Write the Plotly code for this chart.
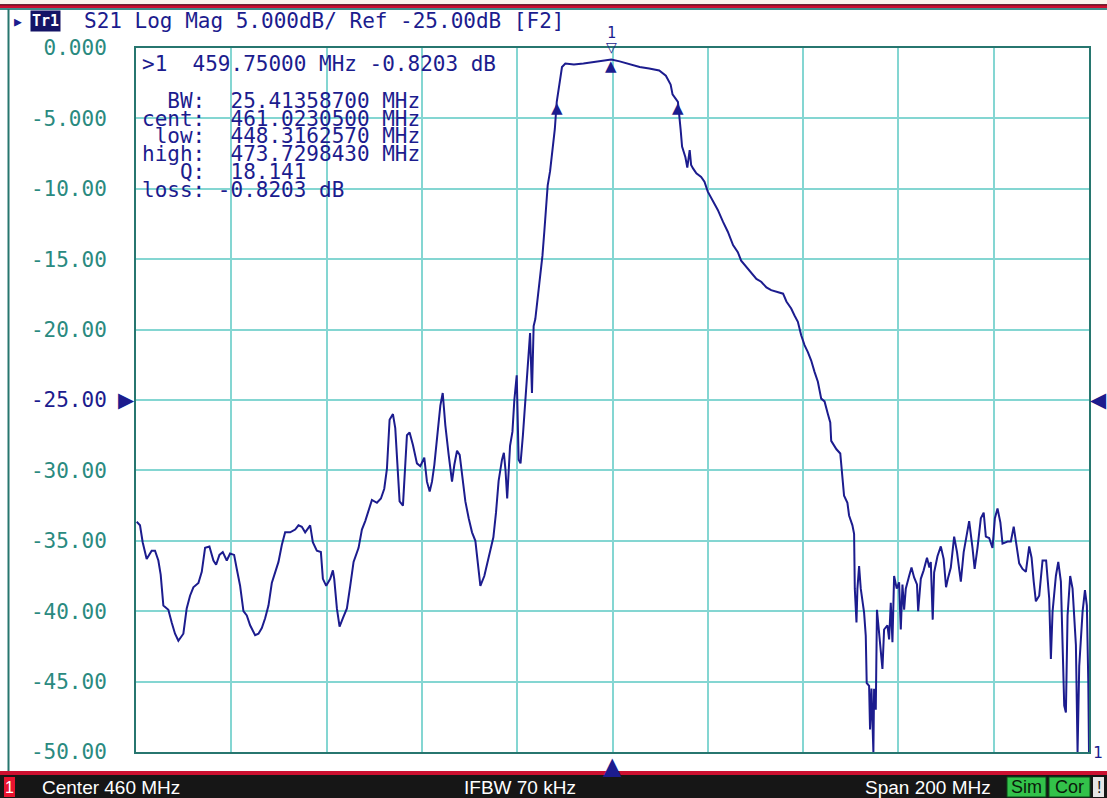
import plotly.graph_objects as go

# ---------------- data (MHz, dB) ----------------
freq_a = [360.14, 360.84, 361.40, 362.24, 363.29, 363.99, 364.69, 365.18, 365.74, 366.79,
          367.49, 368.19, 368.89, 369.94, 370.64, 371.34, 372.04, 373.10, 373.80, 374.50,
          375.41, 376.25, 376.81, 377.51, 378.21, 379.05, 379.75, 380.59, 381.15, 381.85,
          382.55, 383.25, 383.95, 385.00, 385.70, 386.40, 387.10, 387.80, 388.50, 389.20,
          389.90, 390.60, 391.30, 392.35, 393.40, 394.10, 394.80, 395.50, 396.55, 397.11,
          397.95, 398.80, 399.22, 399.92, 400.76, 401.32, 401.60, 402.16, 402.72, 403.42,
          404.26, 404.96, 405.66, 406.71, 407.41, 408.11, 408.81, 409.51, 410.56, 411.40,
          412.10, 412.66, 413.22, 413.92, 414.41, 414.76, 415.32, 416.02, 416.51, 416.86,
          417.42, 418.12, 418.96, 419.66, 420.50, 421.06, 421.63, 422.12, 422.61, 423.17,
          423.87, 424.37, 424.92, 425.62, 426.32, 426.81, 427.37, 427.93, 428.42, 429.12,
          429.82, 430.52, 431.22, 431.92, 432.27]
db_a = [-33.65, -33.9, -35.1, -36.3, -35.7, -35.7, -36.4, -37.4, -39.6, -39.9,
        -40.8, -41.6, -42.1, -41.6, -39.8, -38.9, -38.3, -38.0, -37.2, -35.5,
        -35.4, -36.4, -36.7, -36.0, -35.8, -36.4, -35.9, -36.0, -37.0, -38.2,
        -40.0, -40.3, -41.0, -41.7, -41.6, -41.2, -40.5, -39.6, -38.0, -37.2,
        -36.5, -35.3, -34.4, -34.4, -34.2, -33.9, -34.0, -34.4, -33.9, -35.1,
        -35.7, -35.8, -37.7, -38.2, -37.7, -37.1, -37.7, -39.8, -41.1, -40.5,
        -39.8, -38.2, -36.5, -35.5, -34.2, -33.6, -32.8, -32.1, -32.3, -32.0,
        -31.3, -29.9, -26.4, -26.0, -27.0, -29.3, -32.2, -32.5, -29.6, -27.5,
        -27.3, -28.2, -29.5, -29.7, -29.1, -30.8, -31.5, -30.8, -29.6, -27.8,
        -25.4, -24.5, -26.8, -28.9, -30.8, -29.6, -28.6, -28.9, -30.3, -32.2,
        -33.4, -34.4, -35.0, -37.0, -38.2]

freq_b = [433.1, 434.2, 435.0, 435.55, 436.1, 436.8, 437.2, 437.55, 437.9, 438.5,
          439.0, 439.4, 439.9, 440.3, 440.7, 441.2, 441.6, 442.2, 442.7, 443.1,
          443.45, 443.8, 444.4, 444.9, 445.3, 445.7, 446.0, 446.4, 446.9, 447.4,
          447.9, 448.3, 448.8, 449.1, 449.4, 450.1, 451.9, 453.9, 456.0, 458.1,
          459.75, 461.5, 463.6, 465.7, 467.7, 469.8, 471.2, 472.2, 472.6, 473.73,
          474.3, 474.6, 475.3, 475.7]
db_b = [-37.5, -36.0, -34.75, -33.0, -30.75, -29.25, -28.75, -30.0, -32.0, -28.25,
        -27.25, -25.0, -23.25, -29.25, -29.5, -27.5, -25.4, -22.75, -20.25, -24.5,
        -19.75, -19.25, -17.5, -15.75, -14.75, -13.0, -11.5, -9.75, -8.75, -7.25,
        -5.75, -3.82, -2.83, -1.97, -1.35, -1.1, -1.18, -1.1, -0.99, -0.9,
        -0.82, -0.95, -1.15, -1.35, -1.45, -1.6, -1.97, -2.6, -3.3, -3.82,
        -5.8, -7.0, -7.76, -8.5]

freq_c = [476.2, 476.5, 476.9, 477.6, 478.6, 479.3, 480.0, 481.1, 482.1, 483.2,
          484.2, 485.3, 486.3, 487.0, 488.1, 489.1, 490.2, 491.2, 492.3, 493.3,
          494.4, 495.8, 496.5, 497.5, 498.2, 498.9, 499.6, 500.3, 501.0, 501.7,
          502.4, 503.1, 503.8, 504.5, 505.2, 505.7, 505.9, 507.0, 507.8, 508.2]
db_c = [-7.25, -8.3, -8.55, -8.9, -9.15, -9.5, -10.2, -10.9, -11.5, -12.35,
        -13.05, -14.0, -14.5, -15.1, -15.55, -16.0, -16.4, -16.6, -17.0, -17.2,
        -17.3, -17.45, -18.0, -18.5, -19.0, -19.45, -20.4, -21.1, -21.6, -22.2,
        -23.0, -23.7, -24.9, -25.1, -26.0, -26.6, -27.9, -28.5, -28.8, -30.1]

freq_d = [508.6, 509.3, 509.65, 510.35, 510.7, 510.85, 511.2, 511.4, 511.75, 512.1,
          512.45, 512.8, 513.15, 513.35, 513.85, 514.05, 514.35, 514.55, 514.75, 514.9,
          515.25, 515.5, 516.0, 516.65, 517.0, 517.7, 518.05, 518.4, 518.75, 519.1,
          519.65, 520.15, 520.5, 520.85, 521.2, 521.55, 522.25, 522.75, 523.3, 523.9,
          524.15, 524.7, 525.3, 526.0, 526.5, 526.8, 527.2, 527.5, 528.2, 528.9,
          529.5, 530.0, 530.45, 531.0]
db_d = [-31.8, -32.3, -33.2, -33.9, -34.5, -38.4, -40.8, -38.4, -36.8, -38.4,
        -39.1, -40.1, -41.75, -45.1, -45.3, -48.4, -45.5, -49.0, -50.0, -45.5,
        -47.0, -39.9, -42.0, -44.1, -41.3, -41.0, -42.0, -39.4, -42.2, -37.5,
        -38.4, -37.95, -41.3, -38.1, -39.9, -38.4, -37.5, -36.9, -37.6, -38.1,
        -40.0, -37.7, -37.1, -36.2, -36.9, -36.5, -40.6, -37.25, -36.1, -35.4,
        -36.3, -38.3, -37.6, -36.9]

freq_e = [531.7, 532.3, 532.75, 533.1, 533.7, 534.4, 534.85, 535.55, 536.0, 536.6,
          537.3, 537.9, 538.35, 539.05, 539.75, 540.25, 540.8, 541.4, 541.85, 542.9,
          543.6, 544.2, 544.65, 545.35, 546.05, 546.75, 547.45, 547.95, 548.4, 548.85,
          549.55, 550.25, 551.0, 551.65, 552.0, 552.35, 553.05, 553.55, 554.1, 554.8,
          555.15, 555.5, 556.05, 556.55, 557.25, 557.6, 557.95, 558.65, 559.15, 559.55,
          559.85, 560.0]
db_e = [-34.7, -35.8, -37.0, -37.9, -35.8, -34.6, -33.6, -35.5, -37.0, -35.5,
        -33.4, -33.0, -34.7, -34.8, -35.5, -33.4, -32.7, -33.7, -35.2, -35.05,
        -35.05, -34.0, -34.9, -36.6, -37.0, -37.2, -35.4, -36.2, -37.9, -39.3,
        -38.9, -36.4, -36.4, -39.1, -43.4, -40.05, -37.5, -36.5, -37.9, -46.7,
        -47.2, -40.3, -37.5, -38.4, -42.4, -50.0, -43.9, -40.05, -38.5, -39.6,
        -45.05, -50.0]

# markers: low -3 dB point, peak, high -3 dB point
marker_freq = [448.3162570, 459.75, 473.7298430]
marker_db = [-3.8203, -0.8203, -3.8203]

y_ticks = [0, -5, -10, -15, -20, -25, -30, -35, -40, -45, -50]
y_tick_text = ["0.000", "-5.000", "-10.00", "-15.00", "-20.00", "-25.00",
               "-30.00", "-35.00", "-40.00", "-45.00", "-50.00"]
ref_level = -25
center_freq = 460

title_text = "S21 Log Mag 5.000dB/ Ref -25.00dB [F2]"
marker_lines = [">1  459.75000 MHz -0.8203 dB",
                "  BW:  25.41358700 MHz",
                "cent:  461.0230500 MHz",
                " low:  448.3162570 MHz",
                "high:  473.7298430 MHz",
                "   Q:  18.141",
                "loss: -0.8203 dB"]
status_left = "Center 460 MHz"
status_mid = "IFBW 70 kHz"
status_right = "Span 200 MHz"

# ---------------- styling ----------------
W, H = 1107, 798
L, R, T, B = 136, 18, 48, 46
PW, PH = W - L - R, H - T - B
NAVY = "#1c1c8e"
TEAL_TXT = "#2a8a80"
GRID = "#84d6d2"
FRAME = "#27766f"
MONO = "DejaVu Sans Mono"
SANS = "Liberation Sans"


def px(xp):
    return (xp - L) / PW


def py(yp):
    return (H - B - yp) / PH


freq = freq_a + freq_b + freq_c + freq_d + freq_e
db = db_a + db_b + db_c + db_d + db_e

fig = go.Figure()
fig.add_trace(go.Scatter(x=freq, y=db, mode="lines",
                         line=dict(color=NAVY, width=2), hoverinfo="skip"))

ticktext = [f'<span style="color:{NAVY}">{t}</span>' if v == ref_level else t
            for v, t in zip(y_ticks, y_tick_text)]

fig.update_layout(
    width=W, height=H, margin=dict(l=L, r=R, t=T, b=B),
    paper_bgcolor="white", plot_bgcolor="white", showlegend=False,
    xaxis=dict(range=[360, 560], tick0=360, dtick=20, showticklabels=False,
               ticks="", showgrid=True, gridcolor=GRID, gridwidth=2,
               zeroline=False, showline=True, linecolor=FRAME, linewidth=2,
               mirror=True, fixedrange=True),
    yaxis=dict(range=[-50, 0], tickvals=y_ticks, ticktext=ticktext, ticks="",
               showgrid=True, gridcolor=GRID, gridwidth=2, zeroline=False,
               showline=True, linecolor=FRAME, linewidth=2, mirror=True,
               tickfont=dict(family=MONO, size=21, color=TEAL_TXT),
               ticklabelstandoff=23, fixedrange=True),
)

shapes = []
# top strip
shapes.append(dict(type="rect", xref="paper", yref="paper", x0=px(0), x1=px(W),
                   y0=py(0), y1=py(4.5), fillcolor="#fdf5ec", line=dict(width=0), layer="below"))
shapes.append(dict(type="rect", xref="paper", yref="paper", x0=px(0), x1=px(W),
                   y0=py(4.5), y1=py(8), fillcolor="#cc1030", line=dict(width=0)))
shapes.append(dict(type="line", xref="paper", yref="paper", x0=px(0), x1=px(W),
                   y0=py(4.8), y1=py(4.8), line=dict(color="#3a0010", width=1)))
shapes.append(dict(type="line", xref="paper", yref="paper", x0=px(0), x1=px(W),
                   y0=py(9), y1=py(9), line=dict(color="#3f8c88", width=2)))
# left frame line
shapes.append(dict(type="line", xref="paper", yref="paper", x0=px(8.5), x1=px(8.5),
                   y0=py(9), y1=py(771), line=dict(color=FRAME, width=2)))
# bottom status bar
shapes.append(dict(type="rect", xref="paper", yref="paper", x0=px(0), x1=px(W),
                   y0=py(771), y1=py(775), fillcolor="#cc1030", line=dict(width=0)))
shapes.append(dict(type="rect", xref="paper", yref="paper", x0=px(0), x1=px(W),
                   y0=py(775), y1=py(H), fillcolor="#161616", line=dict(width=0)))
shapes.append(dict(type="rect", xref="paper", yref="paper", x0=px(4), x1=px(15),
                   y0=py(777), y1=py(797), fillcolor="#e8132f", line=dict(width=0)))
for x0, x1 in [(1007, 1046), (1049, 1090)]:
    shapes.append(dict(type="rect", xref="paper", yref="paper", x0=px(x0), x1=px(x1),
                       y0=py(777), y1=py(797), fillcolor="#33c24a",
                       line=dict(color="#0b4a16", width=1)))
shapes.append(dict(type="rect", xref="paper", yref="paper", x0=px(1093), x1=px(1104),
                   y0=py(777), y1=py(797), fillcolor="#e6e6e6", line=dict(width=0)))
fig.update_layout(shapes=shapes)

ann = []


def text(xp, yp, s, size, color, family=MONO, xanchor="left", **kw):
    ann.append(dict(x=px(xp), y=py(yp), xref="paper", yref="paper", text=s,
                    showarrow=False, xanchor=xanchor, yanchor="middle",
                    font=dict(family=family, size=size, color=color), **kw))


# title bar
text(18, 21, "▶", 13, NAVY, xanchor="center")
text(30, 21, "<b>Tr1</b>", 15, "white", bgcolor="#141466", borderpad=1)
text(82, 21, title_text, 21, NAVY)

# marker readout block
rows_y = [64, 101, 118.6, 136.4, 154.2, 171.8, 189.5]
for yy, s in zip(rows_y, marker_lines):
    text(140, yy, s.replace(" ", "&nbsp;"), 21, NAVY)

# marker triangles (tip on the trace)
for f, v in zip(marker_freq, marker_db):
    ann.append(dict(x=f, y=v, xref="x", yref="y", text="▲", showarrow=False,
                    xanchor="center", yanchor="middle", yshift=-6,
                    font=dict(family="DejaVu Sans", size=15, color=NAVY)))
# active marker flag above the grid
ann.append(dict(x=marker_freq[1], y=1, xref="x", yref="paper", text="▽",
                showarrow=False, xanchor="center", yanchor="middle", yshift=1,
                font=dict(family="DejaVu Sans", size=14, color=NAVY)))
ann.append(dict(x=marker_freq[1], y=1, xref="x", yref="paper", text="1",
                showarrow=False, xanchor="center", yanchor="middle", yshift=15,
                font=dict(family=MONO, size=15, color=NAVY)))
# reference level arrows
ann.append(dict(x=0, y=ref_level, xref="paper", yref="y", text="▶", showarrow=False,
                xanchor="right", yanchor="middle", xshift=1,
                font=dict(family="DejaVu Sans", size=21, color=NAVY)))
ann.append(dict(x=1, y=ref_level, xref="paper", yref="y", text="◀", showarrow=False,
                xanchor="left", yanchor="middle", xshift=-1,
                font=dict(family="DejaVu Sans", size=21, color=NAVY)))
# center stimulus arrow
ann.append(dict(x=center_freq, y=0, xref="x", yref="paper", text="▲", showarrow=False,
                xanchor="center", yanchor="top", yshift=2,
                font=dict(family="DejaVu Sans", size=24, color=NAVY)))
# trace end label
ann.append(dict(x=1, y=-50, xref="paper", yref="y", text="1", showarrow=False,
                xanchor="left", yanchor="middle", xshift=2,
                font=dict(family=MONO, size=16, color=NAVY)))

# status bar
text(9.5, 787, "1", 16, "white", family=SANS, xanchor="center")
text(40, 787, status_left, 19, "white", family=SANS)
text(520, 787, status_mid, 19, "white", family=SANS, xanchor="center")
text(993, 787, status_right, 19, "white", family=SANS, xanchor="right")
text(1026.5, 787, "Sim", 18, "#0a1a0a", family=SANS, xanchor="center")
text(1069.5, 787, "Cor", 18, "#0a1a0a", family=SANS, xanchor="center")
text(1098.5, 787, "!", 16, "#111111", family=SANS, xanchor="center")

fig.update_layout(annotations=ann)
fig.write_html("out.html", config={"displayModeBar": False},
               post_script="document.body.style.margin='0';document.body.style.overflow='hidden';")
